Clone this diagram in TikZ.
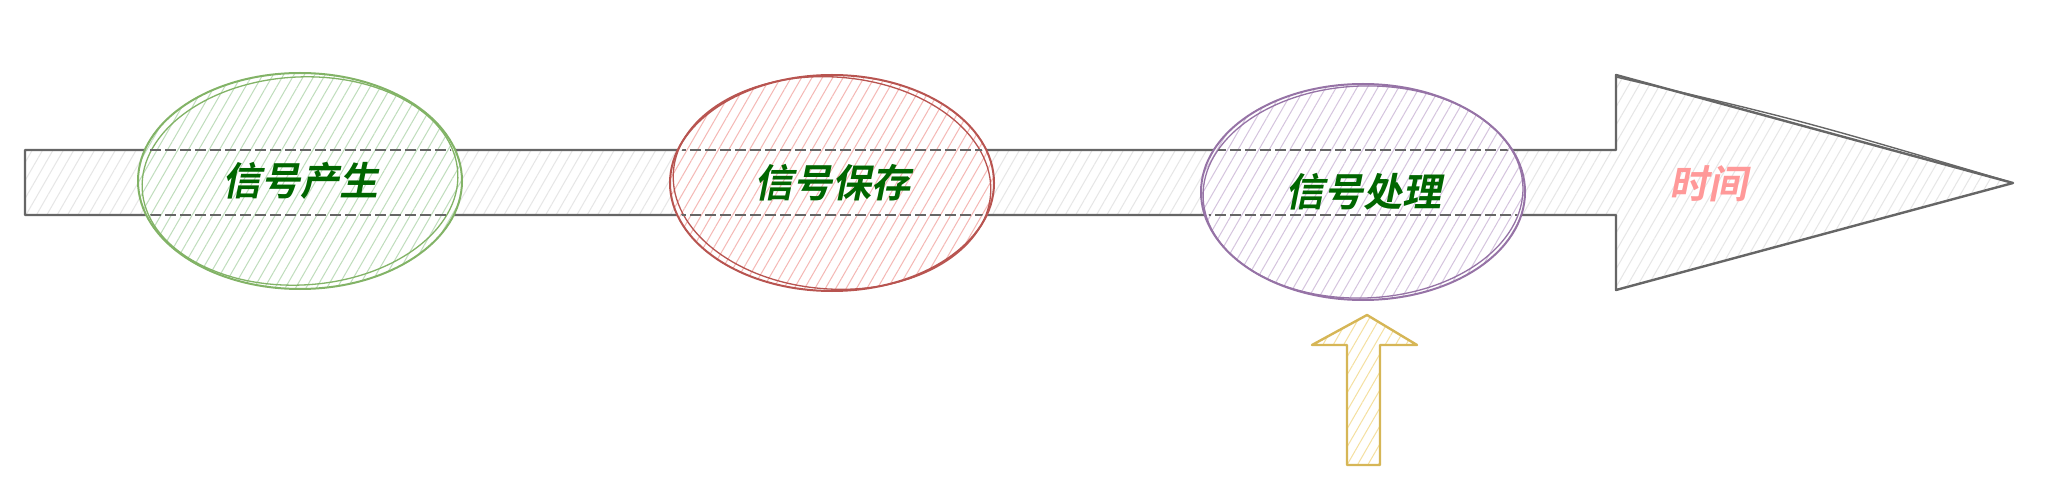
\documentclass[tikz,border=0pt]{standalone}
\usepackage{fontspec}
\newfontfamily\cjkb{Noto Sans CJK SC Bold}[FakeSlant=0.2]
\usetikzlibrary{shapes.geometric,patterns.meta}
\definecolor{arrowline}{HTML}{666666}
\definecolor{arrowhatch}{HTML}{E6E6E6}
\definecolor{gline}{HTML}{82B366}
\definecolor{ghatch}{HTML}{BFDDBC}
\definecolor{rline}{HTML}{B85450}
\definecolor{rhatch}{HTML}{F5B8B5}
\definecolor{pline}{HTML}{9673A6}
\definecolor{phatch}{HTML}{D5C4DE}
\definecolor{yline}{HTML}{D6B656}
\definecolor{yhatch}{HTML}{F5E0A0}
\definecolor{txtgreen}{HTML}{006600}
\definecolor{txtpink}{HTML}{FF9999}
\begin{document}
\begin{tikzpicture}[x=1pt,y=-1pt,
  hatch/.style={preaction={fill=white},pattern={Lines[angle=60,distance=9pt,line width=1pt]},pattern color=#1},
  blob/.style={ellipse,inner sep=0pt,minimum width=324pt,minimum height=216pt,line width=2pt,
    font=\cjkb\fontsize{39}{42}\selectfont,text=txtgreen},
  edgedash/.style={draw=arrowline,line width=2.6pt,dash pattern=on 11pt off 4pt},
  sketch/.style={line width=1.3pt}]
\useasboundingbox (0,0) rectangle (2068,494);
% big time arrow
\draw[hatch=arrowhatch,draw=arrowline,line width=2.4pt,line join=round]
  (25,150) -- (1616,150) -- (1616,75) -- (2013,183) -- (1616,290) -- (1616,215) -- (25,215) -- cycle;
\draw[arrowline,line width=1.4pt] (1616,77) .. controls (1800,120) .. (2010,182);
\node[font=\cjkb\fontsize{39}{42}\selectfont,text=txtpink] (time) at (1708,184) {时间};
% stage ellipses
\node[blob,draw=gline,hatch=ghatch] (gen) at (300,181) {信号产生};
\node[blob,draw=rline,hatch=rhatch] (save) at (832,183) {信号保存};
\node[blob,draw=pline,hatch=phatch] (proc) at (1363,192) {信号处理};
% sketchy second strokes
\draw[gline,sketch,rotate around={3:(gen.center)}] (gen.center) ellipse[x radius=158pt,y radius=104pt];
\draw[rline,sketch,rotate around={-4:(save.center)}] (save.center) ellipse[x radius=159pt,y radius=106pt];
\draw[pline,sketch,rotate around={2:(proc.center)}] (proc.center) ellipse[x radius=160pt,y radius=106pt];
% arrow edges seen through ellipses
\foreach \n in {gen,save,proc}{
  \begin{scope}
    \clip (\n.center) ellipse[x radius=158pt,y radius=105pt];
    \draw[edgedash] (0,150) -- (2068,150);
    \draw[edgedash] (0,215) -- (2068,215);
  \end{scope}
}
% yellow input arrow
\coordinate (yin) at (1363,465);
\draw[hatch=yhatch,draw=yline,line width=2.4pt,line join=round]
  (1347,465) -- (1347,345) -- (1312,345) -- (1367,315) -- (1417,345) -- (1380,345) -- (1380,465) -- cycle;
\end{tikzpicture}
\end{document}
